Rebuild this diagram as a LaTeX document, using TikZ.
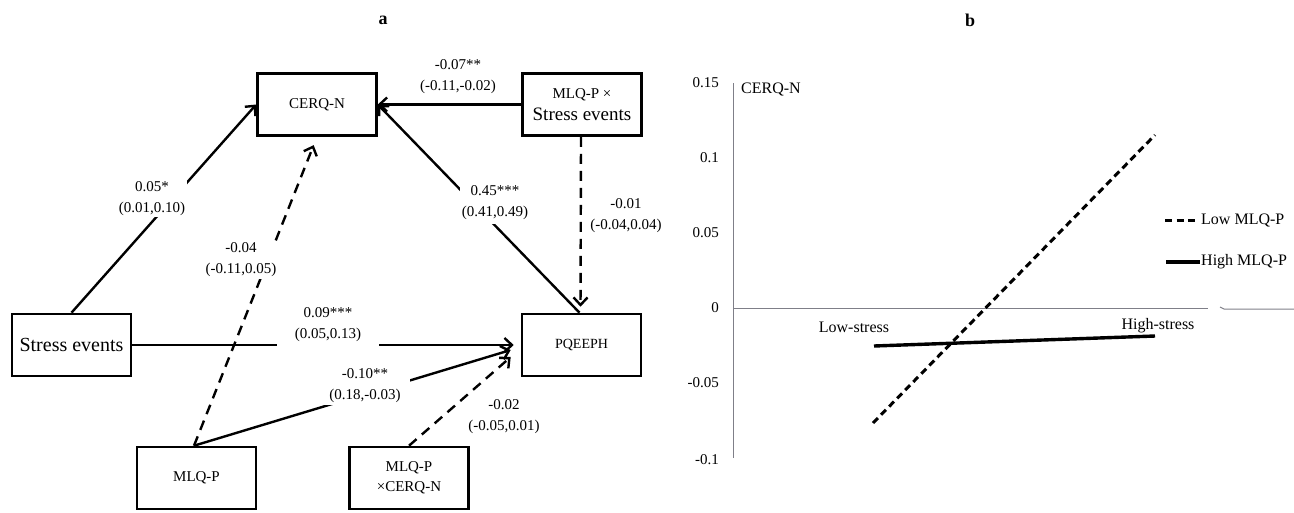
\documentclass[tikz,border=0pt]{standalone}
\usepackage{fontspec}
\setmainfont{Liberation Serif}
\usetikzlibrary{arrows.meta}
\definecolor{axisgrey}{HTML}{7F7F88}
\begin{document}
\begin{tikzpicture}[x=1pt,y=-1pt,
  box/.style={draw, line width=2.6pt, minimum width=119pt, minimum height=62pt, inner sep=0pt, align=center, font=\fontsize{15}{22}\selectfont},
  conn/.style={line width=2.4pt, -{Straight Barb[length=7.5pt,width=14pt,line width=2.4pt]}},
  dconn/.style={conn, dash pattern=on 10pt off 7pt},
  lbl/.style={fill=white, inner sep=1.5pt, align=center, font=\fontsize{15}{21}\selectfont},
  axisline/.style={draw=axisgrey, line width=1pt},
  ticklbl/.style={anchor=east, inner sep=0pt, font=\fontsize{15}{17}\selectfont},
  plottxt/.style={inner sep=0pt, font=\fontsize{16}{18}\selectfont},
  lowline/.style={line width=3pt, dash pattern=on 7pt off 4.5pt},
  highline/.style={line width=3.4pt}
]
\useasboundingbox (0,0) rectangle (1294,512);

% titles
\node[font=\bfseries\fontsize{18}{20}\selectfont] (ta) at (383,20) {a};
\node[font=\bfseries\fontsize{18}{20}\selectfont] (tb) at (970,20) {b};

% boxes
\node[box] (cerq) at (317,104.5) {CERQ-N};
\node[box] (mlqx) at (582,104.5) {MLQ-P ×\\{\fontsize{19}{21}\selectfont Stress events}};
\node[box, font=\fontsize{20}{22}\selectfont] (stress) at (71.5,345) {Stress events};
\node[box, font=\fontsize{14}{16}\selectfont] (pq) at (581.5,345) {PQEEPH};
\node[box] (mlqp) at (196.5,478) {MLQ-P};
\node[box, font=\fontsize{15}{20}\selectfont] (mlqxc) at (409,478) {MLQ-P\\×CERQ-N};

% connectors
\draw[conn] (stress.north) -- (cerq.west);
\draw[conn] (mlqx.west) -- (cerq.east);
\draw[conn] ([xshift=-2pt]pq.north) -- (cerq.east);
\draw[dconn, shorten >=6pt] ([xshift=-1pt]mlqx.south) -- ([xshift=-1pt]pq.north);
\draw[dconn, shorten >=9pt] ([xshift=-2.5pt]mlqp.north) -- (cerq.south);
\draw[conn, shorten >=7pt] (stress.east) -- (pq.west);
\draw[conn] ([xshift=-2.5pt]mlqp.north) -- ([xshift=-10pt,yshift=-5pt]pq.west);
\draw[dconn] (mlqxc.north) -- ([xshift=-10pt,yshift=-12pt]pq.west);

% labels
\node[lbl] (l1) at (152,198.5) {0.05*\\(0.01,0.10)};
\node[lbl] (l2) at (458,77) {-0.07**\\(-0.11,-0.02)};
\node[lbl, inner ysep=4pt] (l3) at (495,203) {0.45***\\(0.41,0.49)};
\node[lbl, fill=none] (l4) at (626,216) {-0.01\\(-0.04,0.04)};
\node[lbl] (l5) at (241,260) {-0.04\\(-0.11,0.05)};
\node[lbl, inner xsep=18pt, inner ysep=9pt] (l6) at (328,325) {0.09***\\(0.05,0.13)};
\node[lbl, inner xsep=9pt] (l7) at (365,386) {-0.10**\\(0.18,-0.03)};
\node[lbl, fill=none] (l8) at (504,417) {-0.02\\(-0.05,0.01)};

% panel b
\draw[axisline] (733,83) -- (733,458);
\draw[axisline] (733,308) -- (1208,308);
\draw[axisline] (1220,307) -- (1224,309) -- (1294,309);
\node[ticklbl] (t1) at (719,83) {0.15};
\node[ticklbl] (t2) at (719,158) {0.1};
\node[ticklbl] (t3) at (719,233) {0.05};
\node[ticklbl] (t4) at (719,308) {0};
\node[ticklbl] (t5) at (719,383) {-0.05};
\node[ticklbl] (t6) at (719,460) {-0.1};
\node[plottxt, anchor=west] (ylab) at (741,89) {CERQ-N};
\node[plottxt] (xlow) at (854,327) {Low-stress};
\node[plottxt] (xhigh) at (1158,326) {High-stress};
\coordinate (lowA) at (873,423);
\coordinate (lowB) at (1155,135);
\coordinate (highA) at (874,346);
\coordinate (highB) at (1155,336);
\draw[lowline] (lowA) -- (lowB);
\draw[highline] (highA) -- (highB);
% legend
\coordinate (lg1a) at (1165,220);
\coordinate (lg1b) at (1199,220);
\coordinate (lg2a) at (1166,262);
\coordinate (lg2b) at (1200,262);
\draw[lowline] (lg1a) -- (lg1b);
\draw[highline] (lg2a) -- (lg2b);
\node[plottxt, anchor=west] (lgt1) at (1201,220) {Low MLQ-P};
\node[plottxt, anchor=west] (lgt2) at (1201,262) {High MLQ-P};
\end{tikzpicture}
\end{document}
